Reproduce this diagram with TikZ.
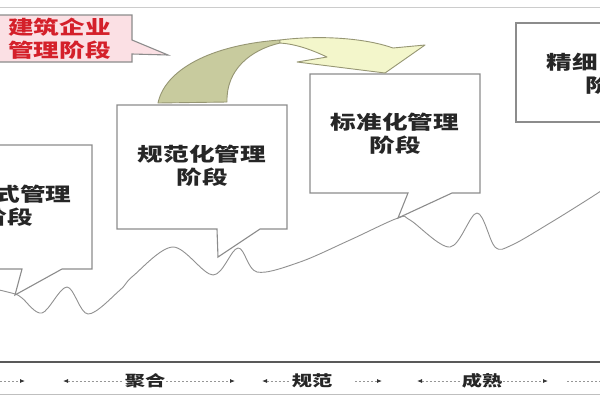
\documentclass[tikz,border=0pt]{standalone}
\usepackage{fontspec}
\newfontfamily\cjk[FakeStretch=1.35]{Noto Sans CJK SC}
\usetikzlibrary{arrows.meta}
\definecolor{boxline}{RGB}{140,140,140}
\definecolor{waveline}{RGB}{145,145,145}
\definecolor{darkolive}{RGB}{200,203,158}
\definecolor{lightolive}{RGB}{243,246,203}
\definecolor{arrline}{RGB}{150,150,115}
\definecolor{redtext}{RGB}{212,32,42}
\definecolor{pinkfill}{RGB}{251,224,228}
\definecolor{dashgray}{RGB}{150,150,150}
\begin{document}
\begin{tikzpicture}[x=1pt,y=-1pt,
  callout/.style={draw=boxline,line width=1.1pt,fill=white,line join=miter},
  boxtext/.style={font=\cjk\bfseries\fontsize{19}{23}\selectfont,align=center,inner sep=0pt,text=black!85},
  redlabel/.style={font=\cjk\bfseries\fontsize{19}{23.5}\selectfont,align=right,inner sep=0pt,text=redtext},
  phase/.style={font=\cjk\bfseries\fontsize{15}{18}\selectfont,inner sep=1pt,text=black!85},
  dasharr/.style={draw=dashgray,line width=0.8pt,dash pattern=on 2pt off 2pt},
  tipr/.style={-{Latex[length=5pt,width=4pt,color=black!80]}},
  tipl/.style={{Latex[length=5pt,width=4pt,color=black!80]}-},
  wave/.style={draw=waveline,line width=0.9pt}]
\useasboundingbox (0,0) rectangle (600,400);
\clip (0,0) rectangle (600,400);
\fill[white] (0,0) rectangle (600,400);
% top frame line
\draw[draw=black!20,line width=0.8pt] (0,7) -- (600,7);
% wave
\draw[wave] plot[smooth,tension=0.55] coordinates {
 (-5,289) (15,294) (22,298) (42,313) (67,287) (88,314) (120,290) (133,276)
 (173,247) (213,275) (238,248) (257,272) (300,262) (350,240) (398,218)
 (410,220) (450,247) (477,213) (495,247) (512,245) (550,223) (587,200) (610,185)};
% callout boxes
\draw[callout] (-10,145) -- (92,145) -- (92,269) -- (62,269) -- (15,295) -- (22,269) -- (-10,269) -- cycle;
\draw[callout] (117,105) -- (287,105) -- (287,229) -- (260,229) -- (218,257) -- (217,229) -- (117,229) -- cycle;
\draw[callout] (310,74) -- (480,74) -- (480,193) -- (452,193) -- (398,218) -- (408,193) -- (310,193) -- cycle;
\draw[callout] (516,23) -- (640,23) -- (640,122) -- (516,122) -- cycle;
\draw[callout,fill=pinkfill] (-10,15) -- (132,15) -- (132,40) -- (168,55) -- (132,54) -- (132,62) -- (-10,62) -- cycle;
% curved arrow
\draw[fill=darkolive,draw=arrline,line width=0.9pt,line join=round]
  (158,103) .. controls (165,70) and (210,45) .. (280,40)
  -- (280,43) .. controls (250,50) and (226,70) .. (227,102) -- cycle;
\draw[fill=lightolive,draw=arrline,line width=0.9pt,line join=round]
  (280,40) .. controls (320,35) and (365,38) .. (393,48)
  -- (425,45) -- (385,73) -- (297,62) -- (327,57)
  .. controls (310,49) and (295,44) .. (280,43) -- cycle;
% texts
\node[boxtext] (t1) at (7.5,206) {\phantom{式式}式管理\\阶段};
\node[boxtext] (t2) at (202,166) {规范化管理\\阶段};
\node[boxtext] (t3) at (395,134) {标准化管理\\阶段};
\node[boxtext] (t4) at (611,74) {精细\phantom{化管理}\\阶\phantom{段}};
\node[redlabel,anchor=east] (t5) at (111,38.5) {建筑企业\\管理阶段};
% bottom band
\draw[draw=black!65,line width=1.4pt] (0,362) -- (600,362);
\draw[draw=black!25,line width=0.8pt] (0,394) -- (600,394);
\node[phase] (l1) at (145,381) {聚合};
\node[phase] (l2) at (312,381) {规范};
\node[phase] (l3) at (482,381) {成熟};
\coordinate (a0) at (0,381);
\coordinate (a1) at (25,381);
\coordinate (a2) at (63,381);
\coordinate (a3) at (235,381);
\coordinate (a4) at (262,381);
\coordinate (a5) at (355,381);
\coordinate (a6) at (382,381);
\coordinate (a7) at (417,381);
\coordinate (a8) at (548,381);
\coordinate (a9) at (567,381);
\coordinate (a10) at (600,381);
\draw[dasharr,tipr] (a0) -- (a1);
\draw[dasharr,tipl] (a2) -- (l1.west);
\draw[dasharr,tipr] (l1.east) -- (a3);
\draw[dasharr,tipl] (a4) -- (l2.west);
\draw[dasharr,tipr] (a5) -- (a6);
\draw[dasharr,tipl] (a7) -- (l3.west);
\draw[dasharr,tipr] (l3.east) -- (a8);
\draw[dasharr] (a9) -- (a10);
\end{tikzpicture}
\end{document}
